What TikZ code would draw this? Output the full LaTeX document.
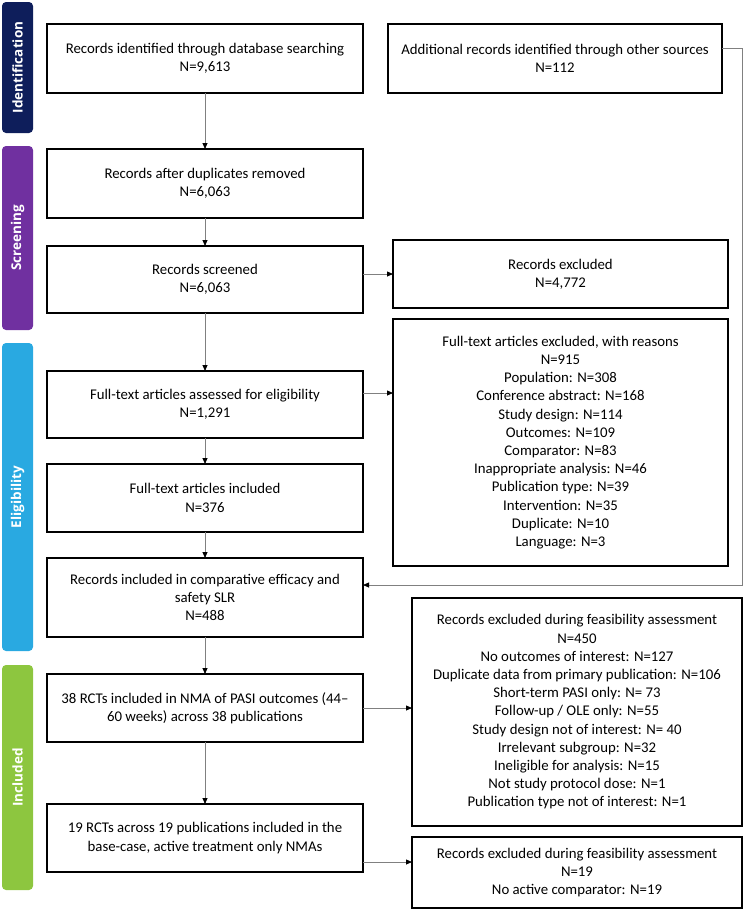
\documentclass[tikz,border=0pt]{standalone}
\usepackage{fontspec}
\setmainfont{Carlito}
\newfontfamily\sidefont{Open Sans}
\usetikzlibrary{arrows.meta}
\definecolor{navy}{HTML}{0E1E5B}
\definecolor{purp}{HTML}{7030A0}
\definecolor{skyb}{HTML}{29A9E1}
\definecolor{lgreen}{HTML}{8DC63F}
\definecolor{lgray}{HTML}{808080}
\tikzset{
  box/.style={draw=black, line width=1.8pt, inner sep=0pt, outer sep=0pt, align=center,
    anchor=north west, font=\fontsize{14.8}{18.2}\selectfont},
  side/.style={rounded corners=4pt, inner sep=0pt, outer sep=0pt, rotate=90,
    text=white, font=\sidefont\bfseries\fontsize{13.5}{16}\selectfont},
  conn/.style={draw=lgray, line width=0.8pt, -{Triangle[length=6pt,width=5pt,color=black]}},
  connl/.style={draw=lgray, line width=0.8pt}
}
\begin{document}
\begin{tikzpicture}[x=1pt,y=-1pt]
\useasboundingbox (0,0) rectangle (746,911);
% sidebars
\node[side, fill=navy, minimum width=131, minimum height=31] (sid) at (17.5,67.5) {Identification};
\node[side, fill=purp, minimum width=184, minimum height=31] (ssc) at (17.5,238) {Screening};
\node[side, fill=skyb, minimum width=308, minimum height=31] (sel) at (17.5,497) {Eligibility};
\node[side, fill=lgreen, minimum width=225, minimum height=31] (sin) at (17.5,777.5) {Included};
% boxes
\node[box, minimum width=316, minimum height=69] (A) at (47,24) {Records identified through database searching\\N=9,613};
\node[box, minimum width=334, minimum height=69] (B) at (388,24) {Additional records identified through other sources\\N=112};
\node[box, minimum width=316, minimum height=69] (dup) at (47,149) {Records after duplicates removed\\N=6,063};
\node[box, minimum width=316, minimum height=67] (scr) at (47,246) {Records screened\\N=6,063};
\node[box, minimum width=335, minimum height=68] (exc) at (393,240) {Records excluded\\N=4,772};
\node[box, minimum width=316, minimum height=67] (fta) at (47,371) {Full-text articles assessed for eligibility\\N=1,291};
\node[box, minimum width=335, minimum height=247] (ftx) at (393,319) {Full-text articles excluded, with reasons\\N=915\\Population: N=308\\Conference abstract: N=168\\Study design: N=114\\Outcomes: N=109\\Comparator: N=83\\Inappropriate analysis: N=46\\Publication type: N=39\\Intervention: N=35\\Duplicate: N=10\\Language: N=3};
\node[box, minimum width=316, minimum height=68] (fti) at (47,464) {Full-text articles included\\N=376};
\node[box, minimum width=316, minimum height=79] (inc) at (47,558) {Records included in comparative efficacy and\\safety SLR\\N=488};
\node[box, minimum width=316, minimum height=68] (nma) at (47,674) {38 RCTs included in NMA of PASI outcomes (44--\\60 weeks) across 38 publications};
\node[box, minimum width=316, minimum height=68] (rct) at (47,804) {19 RCTs across 19 publications included in the\\base-case, active treatment only NMAs};
\node[box, minimum width=330, minimum height=228] (fea) at (412,598) {Records excluded during feasibility assessment\\N=450\\No outcomes of interest: N=127\\Duplicate data from primary publication: N=106\\Short-term PASI only: N= 73\\Follow-up / OLE only: N=55\\Study design not of interest: N= 40\\Irrelevant subgroup: N=32\\Ineligible for analysis: N=15\\Not study protocol dose: N=1\\Publication type not of interest: N=1};
\node[box, minimum width=330, minimum height=71] (fea2) at (412,837) {Records excluded during feasibility assessment\\N=19\\No active comparator: N=19};
% connectors
\draw[conn] (A) -- (dup);
\draw[conn] (dup) -- (scr);
\draw[conn] (exc.west -| scr.east) -- (exc.west);
\draw[conn] (scr) -- (fta);
\draw[conn] (fta.east |- 0,393) -- (ftx.west |- 0,393);
\draw[conn] (fta) -- (fti);
\draw[conn] (fti) -- (inc);
\coordinate (c1) at (742,48);
\coordinate (c2) at (742,585);
\draw[conn] (B.east |- c1) -- (c1) -- (c2) -- (inc.east |- c2);
\draw[conn] (inc) -- (nma);
\draw[conn] (nma.east) -- (nma.east -| fea.west);
\draw[conn] (nma) -- (rct);
\draw[conn] (rct.east |- 0,862) -- (fea2.west |- 0,862);
\end{tikzpicture}
\end{document}
